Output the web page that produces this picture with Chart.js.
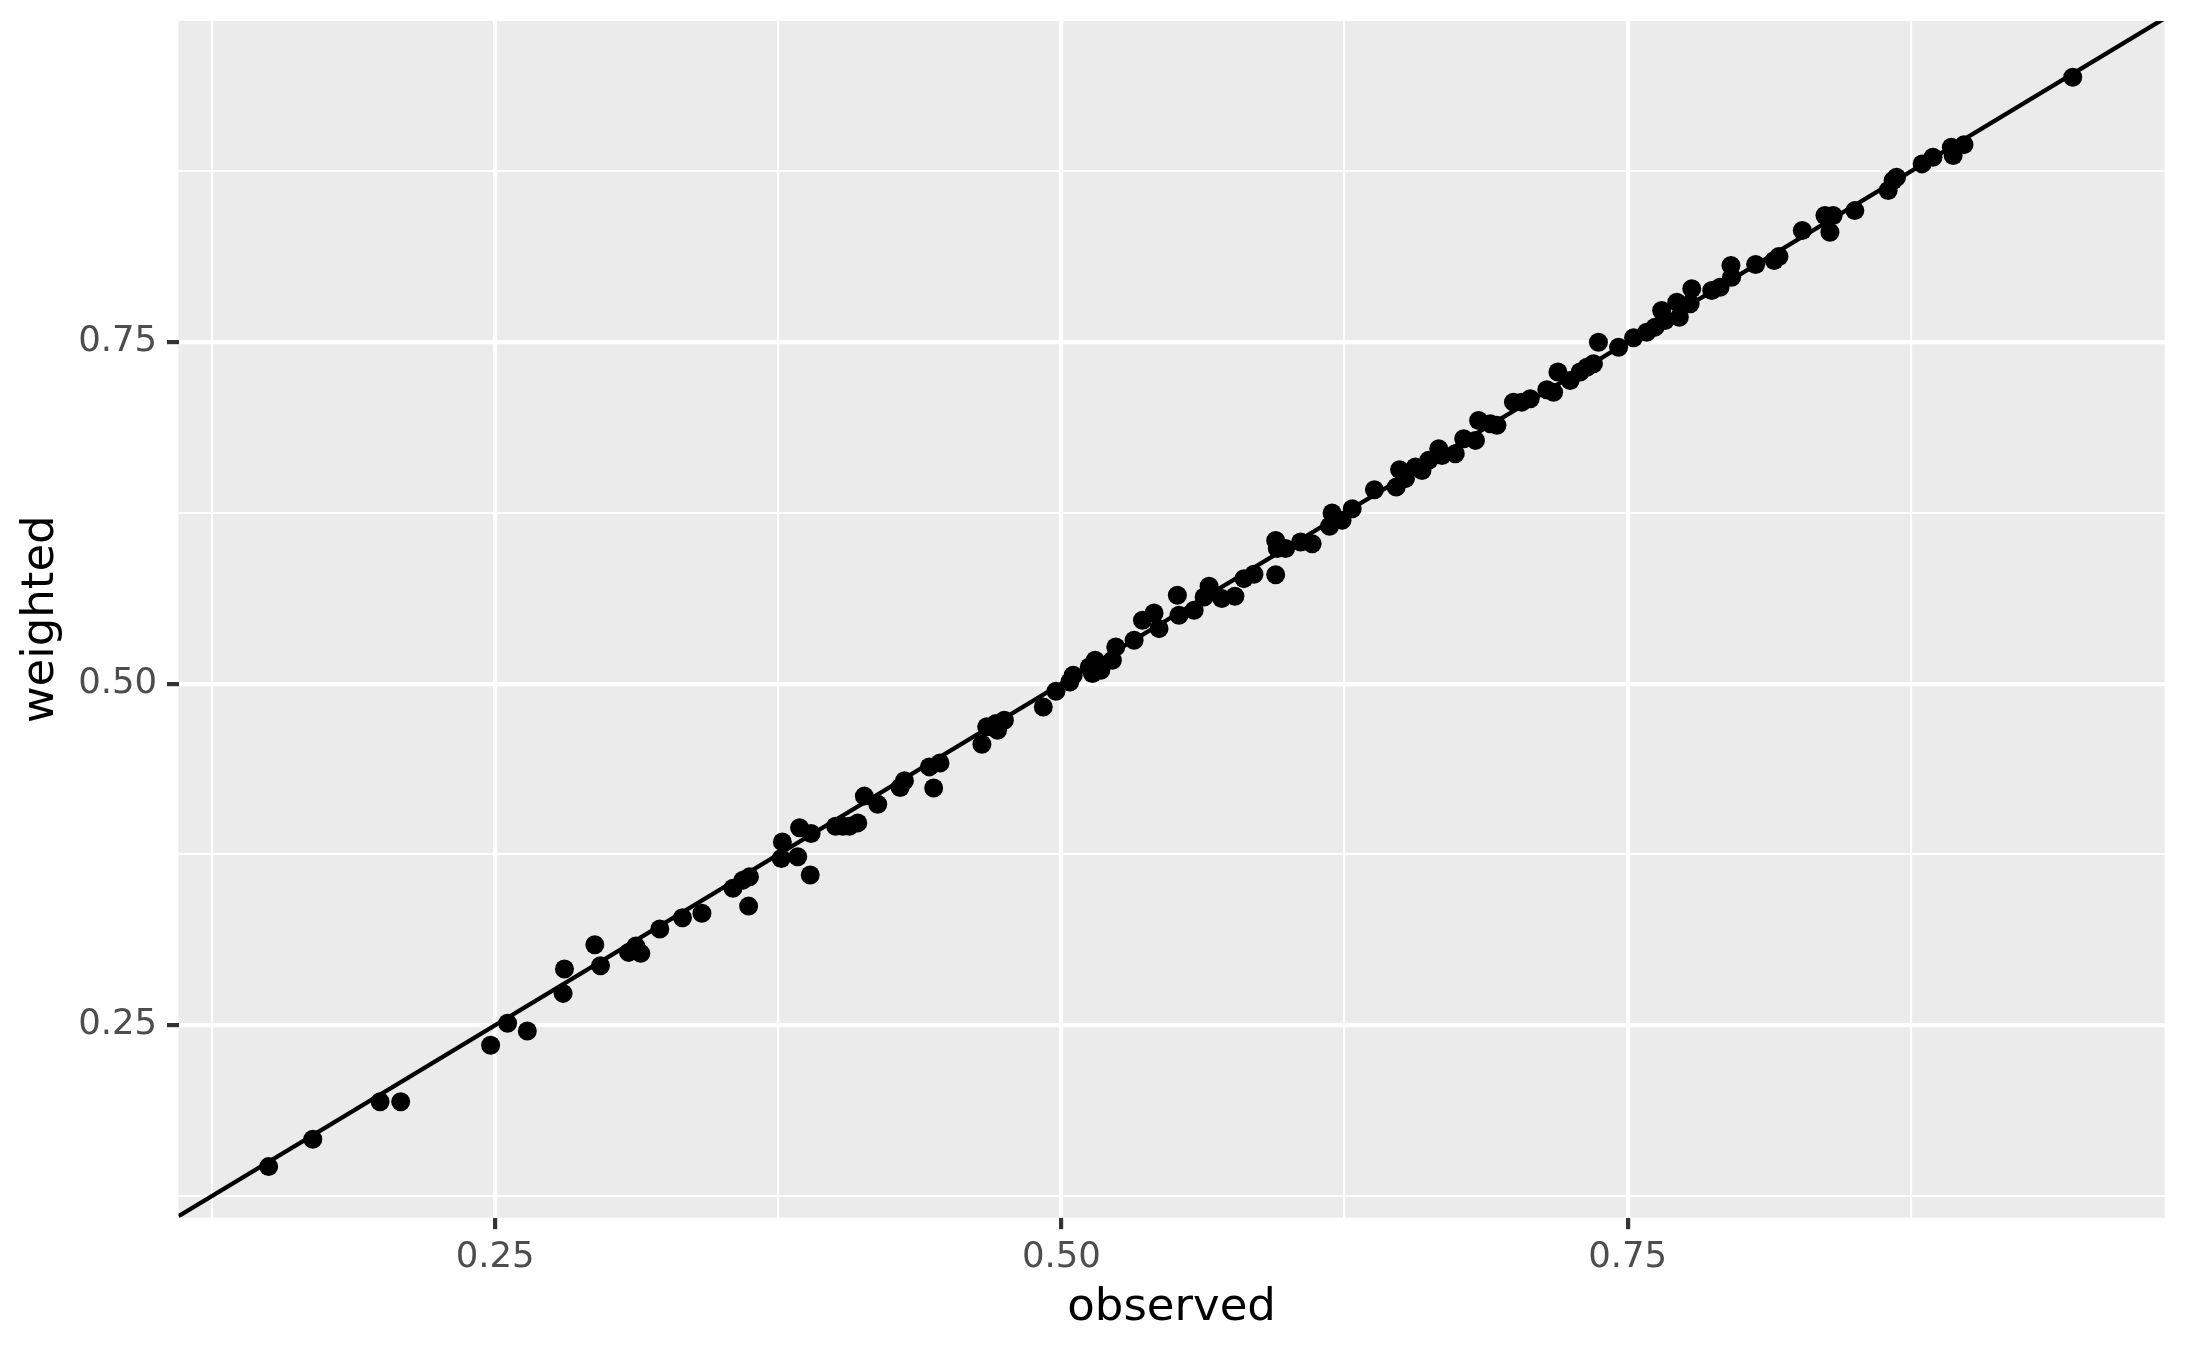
<!DOCTYPE html>
<html>
<head>
<meta charset="utf-8">
<script src="https://cdn.jsdelivr.net/npm/chart.js@4/dist/chart.umd.min.js"></script>
<style>
  html, body { margin: 0; padding: 0; background: #ffffff; }
  #c { display: block; }
</style>
</head>
<body>
<canvas id="c" width="2187" height="1351"></canvas>
<script>
// ---- data ----
const observed = [
  0.150, 0.1695, 0.1992, 0.2083, 0.248, 0.2555, 0.2642, 0.280, 0.2806, 0.294,
  0.2965, 0.3089, 0.3121, 0.3143, 0.3227, 0.3327, 0.3413, 0.355, 0.3594, 0.3623,
  0.3619, 0.3768, 0.3763, 0.3836, 0.3844, 0.3895, 0.3891, 0.4003, 0.4035, 0.4064,
  0.4101, 0.4130, 0.4189, 0.4288, 0.4307, 0.4417, 0.4464, 0.4436, 0.4649, 0.4670,
  0.4711, 0.4718, 0.4748, 0.4920, 0.4976, 0.5037, 0.5052, 0.5123, 0.5149, 0.5137,
  0.5174, 0.5225, 0.5240, 0.5321, 0.5358, 0.5409, 0.5431, 0.5512, 0.5519, 0.5586,
  0.5630, 0.5652, 0.5708, 0.5766, 0.5806, 0.5850, 0.5946, 0.5946, 0.5953, 0.5990,
  0.6056, 0.6107, 0.6195, 0.6184, 0.6239, 0.6284, 0.6382, 0.6478, 0.6493, 0.6519,
  0.6563, 0.6592, 0.6622, 0.6666, 0.6680, 0.6739, 0.6776, 0.6828, 0.6842, 0.6894,
  0.6923, 0.6996, 0.7033, 0.7070, 0.7143, 0.7173, 0.7192, 0.7246, 0.7290, 0.7320,
  0.7349, 0.7371, 0.7460, 0.7526, 0.7584, 0.7621, 0.7650, 0.7665, 0.7717, 0.7728,
  0.7783, 0.7776, 0.7871, 0.7908, 0.7959, 0.7956, 0.8065, 0.8147, 0.8168, 0.8271,
  0.8371, 0.8407, 0.8393, 0.8503, 0.8650, 0.8672, 0.8687, 0.8800, 0.8848, 0.8929,
  0.8937, 0.8985, 0.9465
];
const weighted = [
  0.1465, 0.1665, 0.194, 0.194, 0.2353, 0.2514, 0.2458, 0.2733, 0.2911, 0.3089,
  0.2935, 0.3033, 0.3079, 0.3026, 0.3204, 0.3286, 0.3319, 0.3502, 0.3562, 0.3586,
  0.3372, 0.3842, 0.3721, 0.3733, 0.3945, 0.3904, 0.3599, 0.3957, 0.3957, 0.3957,
  0.3981, 0.4177, 0.4118, 0.4240, 0.4289, 0.4391, 0.4420, 0.4237, 0.4557, 0.4684,
  0.4708, 0.4659, 0.4733, 0.4830, 0.4945, 0.5013, 0.5062, 0.5123, 0.5172, 0.5074,
  0.5098, 0.5172, 0.5269, 0.5318, 0.5464, 0.5518, 0.5403, 0.5647, 0.5501, 0.5537,
  0.5635, 0.5713, 0.5623, 0.5640, 0.5769, 0.5801, 0.5798, 0.6049, 0.5989, 0.5989,
  0.6037, 0.6025, 0.6249, 0.6152, 0.6196, 0.6281, 0.6420, 0.6439, 0.6567, 0.6501,
  0.6586, 0.6561, 0.6635, 0.6720, 0.6671, 0.6683, 0.6793, 0.6781, 0.6927, 0.6903,
  0.6891, 0.7061, 0.7061, 0.7086, 0.7152, 0.7134, 0.7281, 0.7220, 0.7281, 0.7317,
  0.7342, 0.7500, 0.7463, 0.7532, 0.7573, 0.7610, 0.7732, 0.7659, 0.7793, 0.7683,
  0.7891, 0.7781, 0.7878, 0.7902, 0.7975, 0.8061, 0.8068, 0.8098, 0.8127, 0.8317,
  0.8427, 0.8427, 0.8305, 0.8463, 0.8610, 0.8683, 0.8707, 0.8805, 0.8853, 0.8927,
  0.8866, 0.8946, 0.9439
];
// reference line (identity)
const ablineIntercept = 0;
const ablineSlope = 1;

// axis limits and ticks
const xLimits = [0.1102, 0.9871];
const yLimits = [0.1091, 0.9851];
const xTickValues = [0.125, 0.25, 0.375, 0.5, 0.625, 0.75, 0.875];
const yTickValues = [0.125, 0.25, 0.375, 0.5, 0.625, 0.75, 0.875];
const majorTicks = [0.25, 0.5, 0.75];
const majorTickLabels = ['0.25', '0.50', '0.75'];
const xTitle = 'observed';
const yTitle = 'weighted';

// ---- build chart ----
const points = observed.map((v, i) => ({ x: v, y: weighted[i] }));
const linePts = xLimits.map(x => ({ x: x, y: ablineIntercept + ablineSlope * x }));

const isMajor = v => majorTicks.some(m => Math.abs(m - v) < 1e-9);
const labelFor = v => {
  const idx = majorTicks.findIndex(m => Math.abs(m - v) < 1e-9);
  return idx >= 0 ? majorTickLabels[idx] : '';
};

const panelBg = {
  id: 'panelBg',
  beforeDraw(chart) {
    const { ctx, chartArea: a } = chart;
    ctx.save();
    ctx.fillStyle = '#ffffff';
    ctx.fillRect(0, 0, chart.width, chart.height);
    ctx.fillStyle = '#EBEBEB';
    ctx.fillRect(a.left, a.top, a.right - a.left, a.bottom - a.top);
    ctx.restore();
  }
};

const FONT = "'DejaVu Sans', 'Liberation Sans', sans-serif";
const AREA = { left: 178.5, top: 21, right: 2164.7, bottom: 1217.7 };

function gridOpts() {
  return {
    display: true,
    drawOnChartArea: true,
    drawTicks: true,
    tickLength: 11.5,
    color: '#FFFFFF',
    lineWidth: ctx => (ctx.tick && isMajor(ctx.tick.value)) ? 4.2 : 2.1,
    tickColor: ctx => (ctx.tick && isMajor(ctx.tick.value)) ? '#333333' : 'rgba(0,0,0,0)',
    tickWidth: 4.2
  };
}

new Chart(document.getElementById('c'), {
  data: {
    datasets: [
      {
        type: 'line',
        data: linePts,
        borderColor: '#000000',
        borderWidth: 4.3,
        pointRadius: 0,
        fill: false,
        clip: 0,
        order: 0
      },
      {
        type: 'scatter',
        data: points,
        backgroundColor: '#000000',
        borderWidth: 0,
        pointRadius: 9.5,
        pointHoverRadius: 9.5,
        order: 1
      }
    ]
  },
  options: {
    responsive: false,
    animation: false,
    devicePixelRatio: 1,
    events: [],
    layout: { padding: { left: 0, top: AREA.top, right: 2187 - AREA.right, bottom: 0 } },
    plugins: { legend: { display: false }, tooltip: { enabled: false } },
    scales: {
      x: {
        type: 'linear',
        position: 'bottom',
        min: xLimits[0],
        max: xLimits[1],
        afterBuildTicks: s => { s.ticks = xTickValues.map(v => ({ value: v })); },
        afterFit: s => { s.height = 1351 - AREA.bottom; s.paddingLeft = 0; s.paddingRight = 0; },
        grid: gridOpts(),
        border: { display: false },
        ticks: {
          autoSkip: false,
          maxRotation: 0,
          minRotation: 0,
          padding: 7.2,
          color: '#4D4D4D',
          font: { family: FONT, size: 35.5 },
          callback: v => labelFor(v)
        },
        title: {
          display: true,
          text: xTitle,
          color: '#000000',
          font: { family: FONT, size: 45 },
          padding: { top: 0, bottom: 15.6 }
        }
      },
      y: {
        type: 'linear',
        position: 'left',
        min: yLimits[0],
        max: yLimits[1],
        afterBuildTicks: s => { s.ticks = yTickValues.map(v => ({ value: v })); },
        afterFit: s => { s.width = AREA.left; s.paddingTop = 0; s.paddingBottom = 0; },
        grid: gridOpts(),
        border: { display: false },
        ticks: {
          autoSkip: false,
          padding: 9.8,
          color: '#4D4D4D',
          font: { family: FONT, size: 35.5 },
          callback: v => labelFor(v)
        },
        title: {
          display: true,
          text: yTitle,
          color: '#000000',
          font: { family: FONT, size: 45 },
          padding: { top: 14.6, bottom: 0 }
        }
      }
    }
  },
  plugins: [panelBg]
});
</script>
</body>
</html>
